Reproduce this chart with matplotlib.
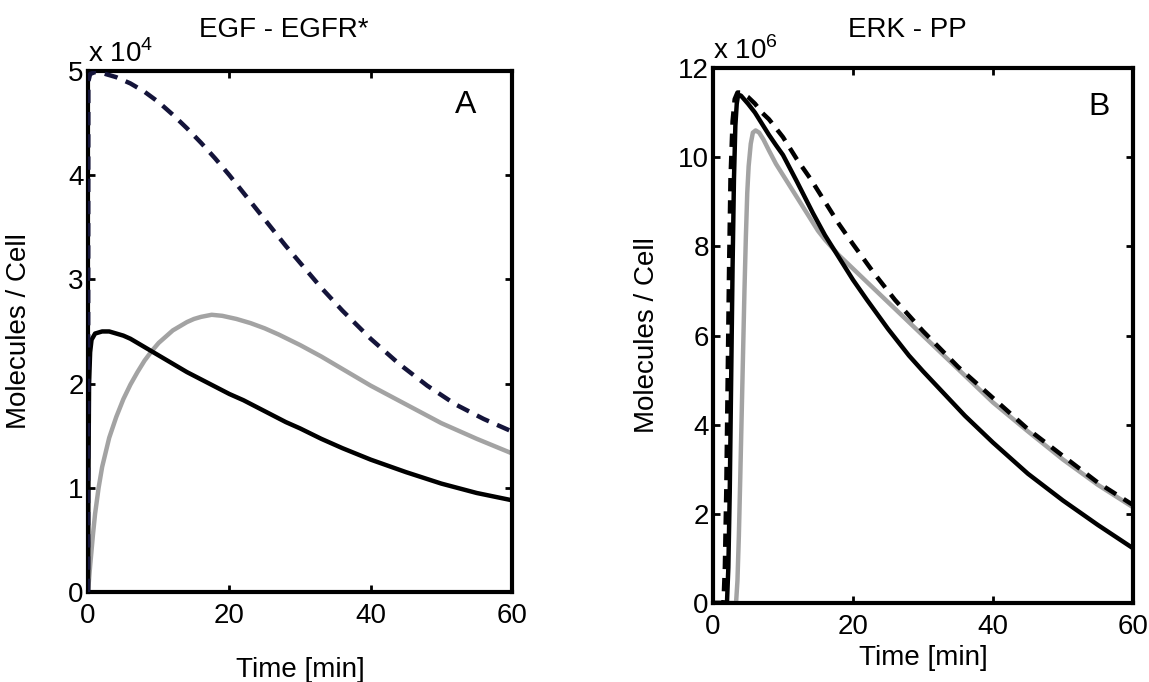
import numpy as np
import matplotlib
matplotlib.use("Agg")
import matplotlib.pyplot as plt

plt.rcParams['font.family'] = ['Liberation Sans', 'DejaVu Sans']
plt.rcParams['mathtext.fontset'] = 'custom'
plt.rcParams['mathtext.rm'] = 'Liberation Sans'

# panel A: EGF - EGFR* (x 10^4)
a_dash_t = [0, 0.05, 0.3, 1, 2, 4, 6, 8, 10, 12, 14, 16, 18, 20, 22, 24, 26, 28, 30,
            33, 36, 40, 44, 48, 52, 56, 60]
a_dash_y = [0, 4.9, 4.97, 4.99, 4.98, 4.94, 4.88, 4.8, 4.7, 4.58, 4.45, 4.31, 4.16, 4.0, 3.83, 3.66, 3.49, 3.32, 3.16,
            2.92, 2.7, 2.43, 2.19, 1.98, 1.8, 1.66, 1.54]
a_black_t = [0, 0.05, 0.15, 0.3, 0.5, 1, 2, 3, 4, 5, 6, 7, 8, 10, 12, 14, 16, 18, 20, 22, 24, 26, 28, 30,
             33, 36, 40, 45, 50, 55, 60]
a_black_y = [0, 1.0, 2.0, 2.3, 2.42, 2.48, 2.5, 2.5, 2.48, 2.46, 2.43, 2.39, 2.35, 2.27, 2.19, 2.11, 2.04, 1.97, 1.9, 1.84, 1.77, 1.7, 1.63, 1.57,
             1.47, 1.38, 1.27, 1.15, 1.04, 0.95, 0.88]
a_gray_t = [0, 0.3, 0.7, 1, 1.5, 2, 3, 4, 5, 6, 7, 8, 9, 10, 11, 12, 13, 14, 15, 16, 17.5, 19, 21, 23, 25, 27, 30,
            33, 36, 40, 45, 50, 55, 60]
a_gray_y = [0, 0.25, 0.55, 0.75, 1.0, 1.2, 1.48, 1.68, 1.85, 1.99, 2.11, 2.22, 2.31, 2.39, 2.45, 2.51, 2.55, 2.59, 2.62, 2.64, 2.66, 2.65, 2.62, 2.58, 2.53, 2.47, 2.37,
            2.26, 2.14, 1.98, 1.8, 1.62, 1.47, 1.33]

# panel B: ERK - PP (x 10^6)
b_dash_t = [0, 1.5, 1.7, 1.9, 2.1, 2.3, 2.5, 2.8, 3.1, 3.5, 4, 5, 6, 7, 8, 9, 10, 12, 14, 16, 18, 20, 23, 26, 30,
            35, 40, 45, 50, 55, 60]
b_dash_y = [0, 0, 0.8, 2.5, 5.0, 7.5, 9.5, 10.8, 11.3, 11.45, 11.45, 11.35, 11.2, 11.0, 10.85, 10.65, 10.45, 9.95, 9.5, 9.0, 8.5, 8.05, 7.4, 6.8, 6.1,
            5.3, 4.6, 3.9, 3.3, 2.7, 2.2]
b_black_t = [0, 2.0, 2.2, 2.4, 2.6, 2.8, 3.0, 3.2, 3.4, 3.6, 4, 5, 6, 7, 8, 9, 10, 12, 14.3, 16, 18, 20, 22, 25, 28, 30,
             33, 36, 40, 45, 50, 55, 60]
b_black_y = [0, 0, 0.8, 2.5, 5.0, 7.5, 9.5, 10.7, 11.2, 11.4, 11.38, 11.2, 11.0, 10.75, 10.5, 10.27, 10.05, 9.45, 8.74, 8.25, 7.75, 7.25, 6.8, 6.15, 5.55, 5.2,
             4.7, 4.2, 3.6, 2.9, 2.3, 1.75, 1.23]
b_gray_t = [0, 3.3, 3.5, 3.7, 3.9, 4.1, 4.3, 4.5, 4.7, 4.9, 5.1, 5.4, 5.7, 6.1, 6.6, 7.2, 8, 9, 10, 11, 12, 13, 14, 15, 16,
            18, 20, 23, 26, 30, 35, 40, 45, 50, 55, 60]
b_gray_y = [0, 0, 0.5, 1.5, 2.8, 4.2, 5.6, 7.0, 8.2, 9.2, 9.8, 10.3, 10.55, 10.6, 10.55, 10.4, 10.15, 9.85, 9.6, 9.35, 9.1, 8.85, 8.6, 8.35, 8.15,
            7.8, 7.5, 7.05, 6.6, 6.0, 5.25, 4.5, 3.85, 3.22, 2.65, 2.15]

fig = plt.figure(figsize=(11.49, 6.82), dpi=100)
axA = fig.add_axes([0.0766, 0.132, 0.369, 0.764])
axB = fig.add_axes([0.6205, 0.1158, 0.3655, 0.7845])

lw = 3.2
dash = (0, (3, 2))
grey = '#a3a3a3'

axA.plot(a_gray_t, a_gray_y, color=grey, lw=lw, zorder=2)
axA.plot(a_black_t, a_black_y, color='black', lw=lw, zorder=3)
axA.plot(a_dash_t, a_dash_y, color='#14143a', lw=lw, ls=dash, zorder=4)

axB.plot(b_gray_t, b_gray_y, color=grey, lw=lw, zorder=2)
axB.plot(b_black_t, b_black_y, color='black', lw=lw, zorder=3)
axB.plot(b_dash_t, b_dash_y, color='black', lw=lw, ls=dash, zorder=4)

fs = 20
for ax, ymax, yt, xl_y in [(axA, 5, [0, 1, 2, 3, 4, 5], -0.125),
                           (axB, 12, [0, 2, 4, 6, 8, 10, 12], -0.078)]:
    ax.set_xlim(0, 60)
    ax.set_ylim(0, ymax)
    ax.set_xticks([0, 20, 40, 60])
    ax.set_yticks(yt)
    ax.tick_params(direction='in', length=5, width=2, top=True, right=True,
                   labelsize=fs, pad=3)
    ax.tick_params(axis='x', pad=8)
    for s in ax.spines.values():
        s.set_linewidth(3)
    ax.set_xlabel('Time [min]', fontsize=fs)
    ax.set_ylabel('Molecules / Cell', fontsize=fs)
    ax.xaxis.set_label_coords(0.5, xl_y)

axA.yaxis.set_label_coords(-0.132, 0.5)
axB.yaxis.set_label_coords(-0.126, 0.5)

axA.text(0.0, 1.005, r'x 10$^{4}$', transform=axA.transAxes, fontsize=fs, va='bottom', ha='left')
axB.text(0.0, 1.005, r'x 10$^{6}$', transform=axB.transAxes, fontsize=fs, va='bottom', ha='left')
fig.text(284 / 1149, 1 - 30 / 682, 'EGF - EGFR*', fontsize=fs, ha='center', va='center')
fig.text(907 / 1149, 1 - 30 / 682, 'ERK - PP', fontsize=fs, ha='center', va='center')
axA.text(0.89, 0.935, 'A', transform=axA.transAxes, fontsize=23, ha='center', va='center')
axB.text(0.92, 0.927, 'B', transform=axB.transAxes, fontsize=23, ha='center', va='center')

fig.savefig('out.png', dpi=100)
